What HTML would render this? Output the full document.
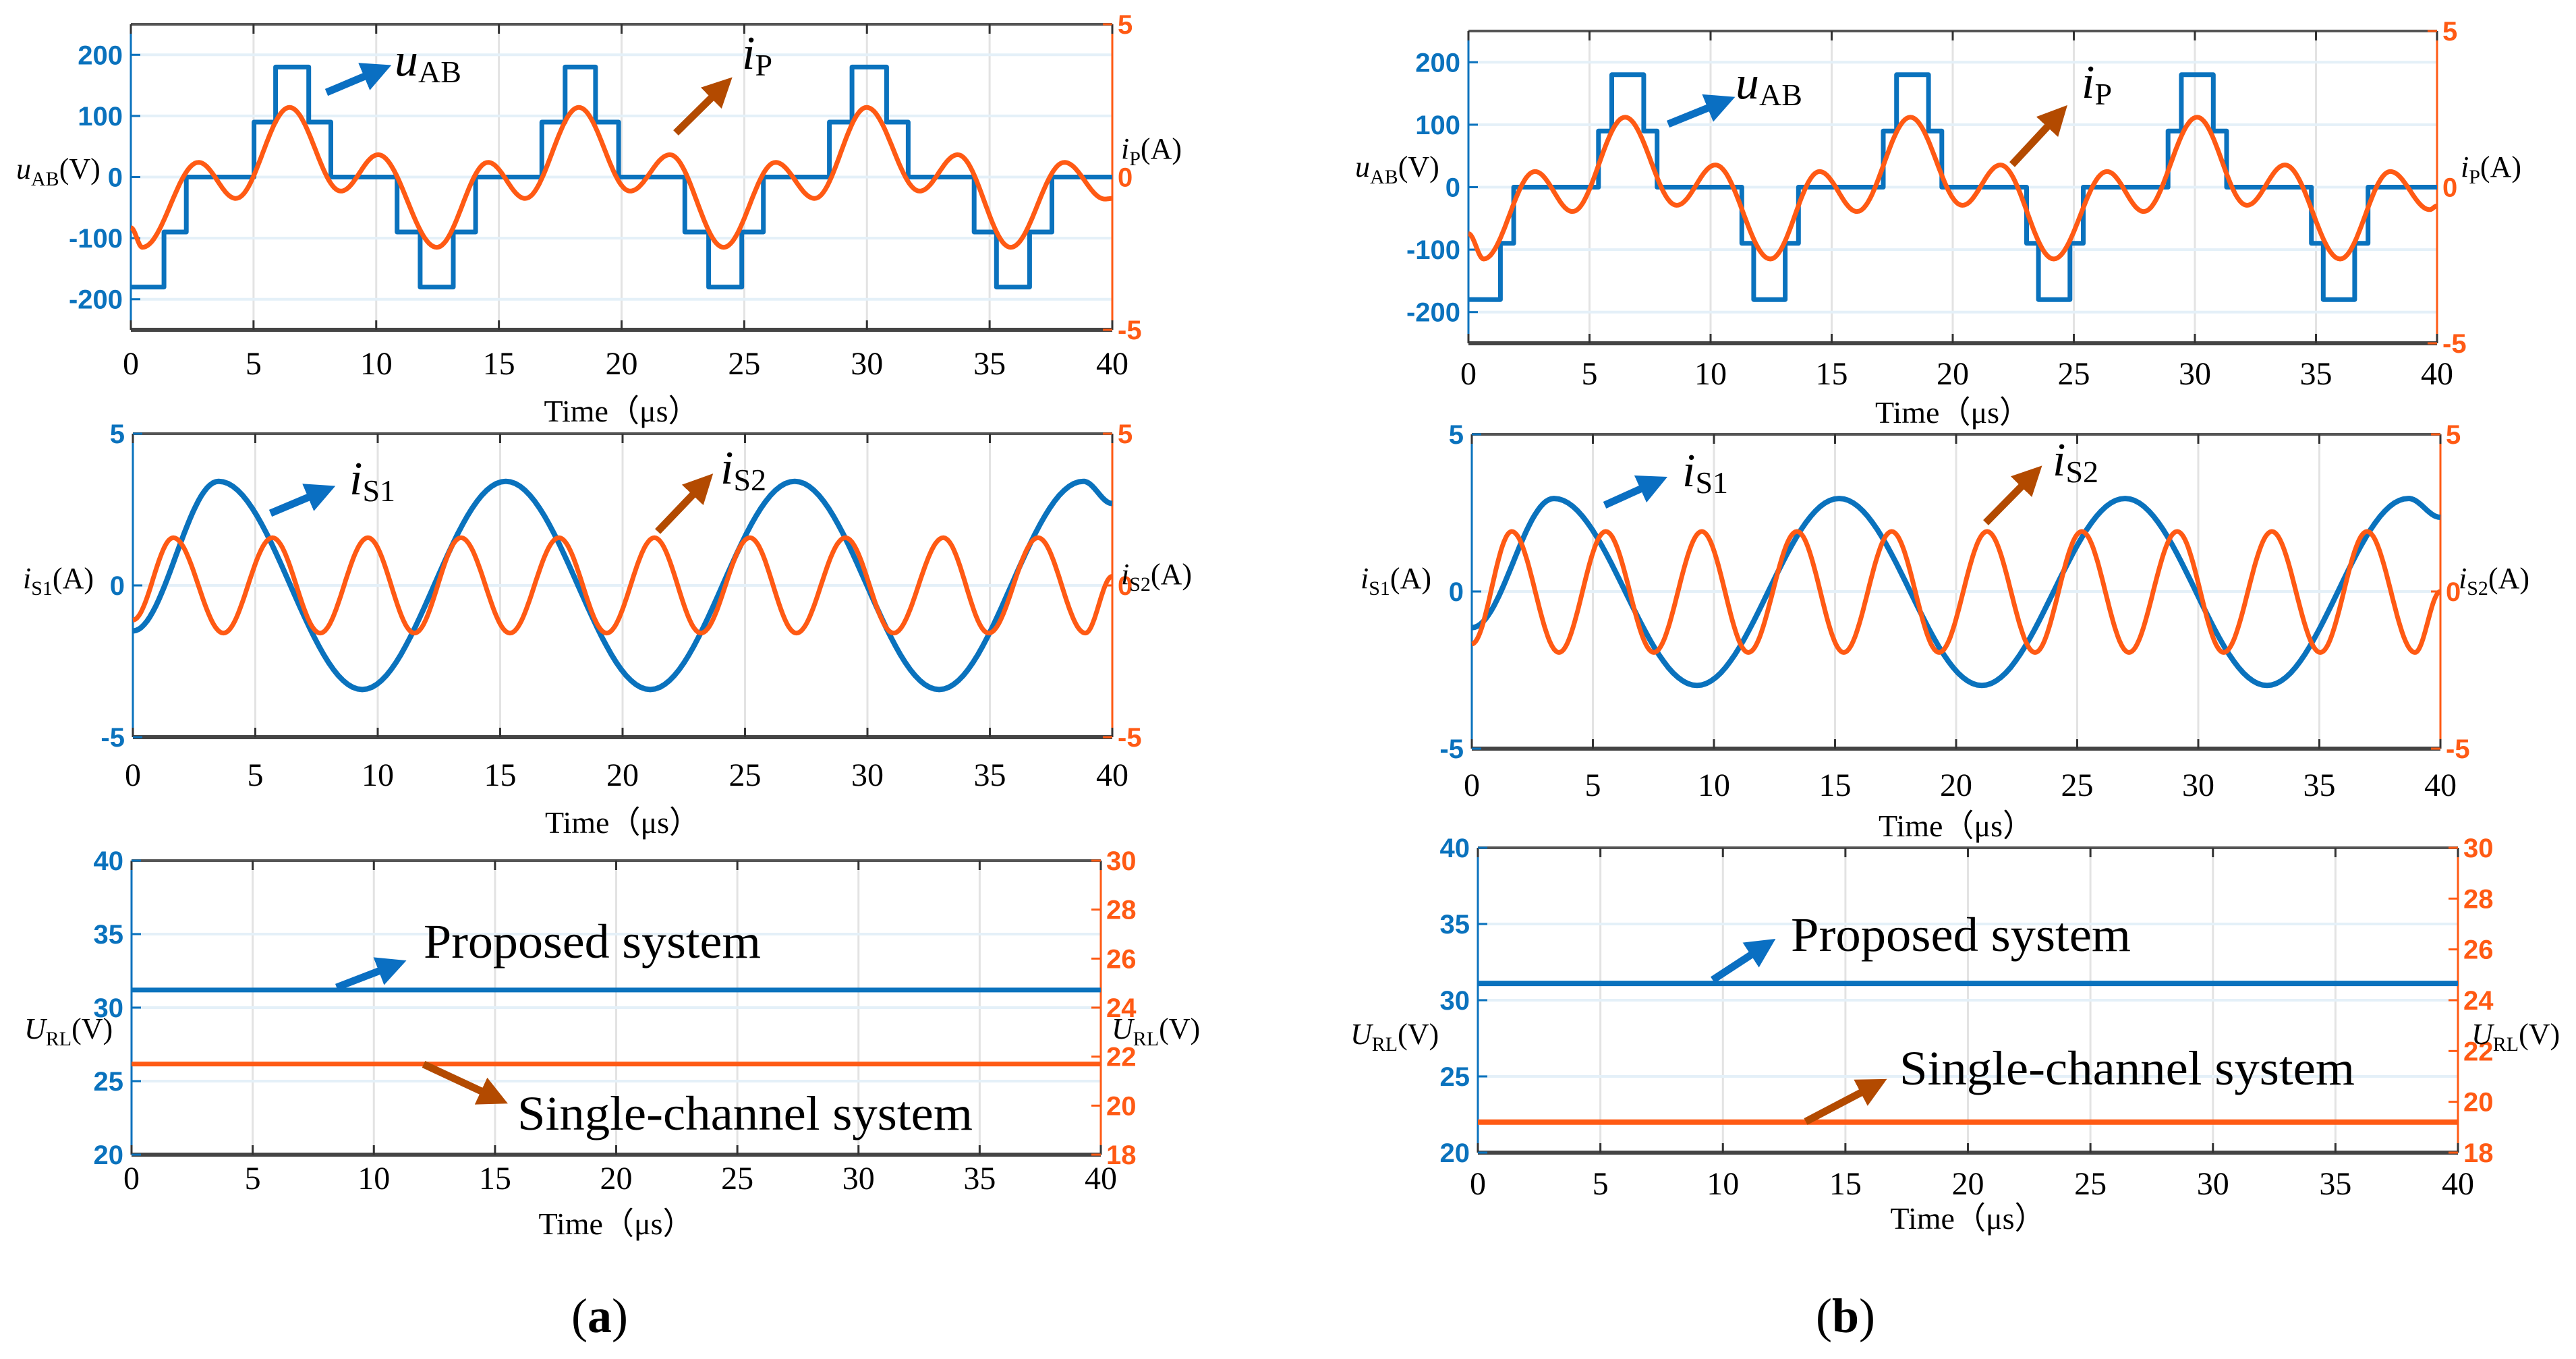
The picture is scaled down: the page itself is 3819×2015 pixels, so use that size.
<!DOCTYPE html>
<html><head><meta charset="utf-8"><style>
html,body{margin:0;padding:0;background:#fff;}
svg{display:block;}
.tk{font-family:"Liberation Sans Narrow","Liberation Sans",sans-serif;font-weight:bold;font-size:40px;}
.xt{font-family:"Liberation Serif",serif;font-size:48px;fill:#000;}
.tl{font-family:"Liberation Serif",serif;font-size:46px;fill:#000;}
.an{font-family:"Liberation Serif",serif;fill:#000;}
</style></head><body>
<svg id="fig" width="3819" height="2015" viewBox="0 0 3819 2015" xmlns="http://www.w3.org/2000/svg">
<defs>
<marker id="ab" markerWidth="4" markerHeight="4" refX="2" refY="2" orient="auto" markerUnits="strokeWidth"><path d="M0,0 L4,2 L0,4 z" fill="#0a6fc2"/></marker>
<marker id="ao" markerWidth="4" markerHeight="4" refX="2" refY="2" orient="auto" markerUnits="strokeWidth"><path d="M0,0 L4,2 L0,4 z" fill="#b34a00"/></marker>
</defs>
</svg>
<script>
// ---------- data ----------
const xTicks = [0,5,10,15,20,25,30,35,40];
// panel a1
const a1StepTimes  = [0,1.35,2.26,5.02,5.9,7.25,8.15,10.85,11.79,13.14,14.05,16.75,17.7,18.94,19.88,22.58,23.55,24.9,25.78,28.47,29.39,30.8,31.68,34.37,35.28,36.63,37.54,40];
const a1StepLevels = [-180,-90,0,90,180,90,0,-90,-180,-90,0,90,180,90,0,-90,-180,-90,0,90,180,90,0,-90,-180,-90,0];
const a1IpT = [0,0.47,2.76,4.28,6.47,8.56,10.08,12.47,14.56,16.07,18.26,20.35,21.97,24.16,26.28,27.87,29.99,32.15,33.7,35.86,38.05,39.7,40];
const a1IpV = [-1.66,-2.3,0.48,-0.7,2.28,-0.46,0.73,-2.3,0.48,-0.7,2.28,-0.46,0.73,-2.3,0.48,-0.7,2.28,-0.46,0.73,-2.3,0.48,-0.72,-0.7];
// panel b1
const b1StepTimes  = [0,1.32,1.87,5.37,5.92,7.24,7.79,11.29,11.78,13.08,13.63,17.13,17.68,19.0,19.55,23.05,23.54,24.84,25.39,28.89,29.44,30.76,31.31,34.81,35.3,36.6,37.15,40];
const b1StepLevels = [-180,-90,0,90,180,90,0,-90,-180,-90,0,90,180,90,0,-90,-180,-90,0,90,180,90,0,-90,-180,-90,0];
const b1IpT = [0,0.63,2.75,4.3,6.47,8.6,10.2,12.47,14.5,16.05,18.25,20.4,21.97,24.17,26.37,27.89,30.09,32.15,33.72,36.0,38.07,39.7,40];
const b1IpV = [-1.49,-2.3,0.5,-0.78,2.24,-0.58,0.71,-2.3,0.5,-0.78,2.24,-0.58,0.71,-2.3,0.5,-0.78,2.24,-0.58,0.71,-2.3,0.5,-0.72,-0.6];
// panel a2
const a2S1T = [0,3.5,9.37,15.23,21.13,27.03,32.93,38.82,40];
const a2S1V = [-1.5,3.43,-3.43,3.43,-3.43,3.43,-3.43,3.43,2.7];
const a2S2T = [0,1.65,3.7,5.7,7.65,9.6,11.5,13.4,15.4,17.4,19.35,21.3,23.2,25.2,27.1,29.1,31.07,33.1,34.95,36.97,38.9,40];
const a2S2V = [-1.14,1.57,-1.57,1.57,-1.57,1.57,-1.57,1.57,-1.57,1.57,-1.57,1.57,-1.57,1.57,-1.57,1.57,-1.57,1.57,-1.57,1.57,-1.57,0.3];
// panel b2
const b2S1T = [0,3.39,9.3,15.17,21.06,26.98,32.84,38.68,40];
const b2S1V = [-1.15,2.96,-2.99,2.96,-2.99,2.96,-2.99,2.96,2.36];
const b2S2T = [0,1.65,3.6,5.53,7.52,9.5,11.42,13.43,15.36,17.34,19.3,21.28,23.26,25.19,27.14,29.13,31.05,33.04,35.04,36.97,38.95,40];
const b2S2V = [-1.67,1.91,-1.94,1.91,-1.94,1.91,-1.94,1.91,-1.94,1.91,-1.94,1.91,-1.94,1.91,-1.94,1.91,-1.94,1.91,-1.94,1.91,-1.94,0];
// panel 3 (DC outputs)
const a3Proposed = [31.2,31.2];
const a3Single = [21.7,21.7];
const b3Proposed = [31.1,31.1];
const b3Single = [19.2,19.2];
const dcT = [0,40];

// ---------- drawing ----------
const NS='http://www.w3.org/2000/svg';
const svg=document.getElementById('fig');
const BLUE='#0a72bd', ORANGE='#ff5a14';
function mk(tag,attrs,parent){const e=document.createElementNS(NS,tag);for(const k in attrs)e.setAttribute(k,attrs[k]);(parent||svg).appendChild(e);return e;}

function makePanel(id,x0,x1,y0,y1,lmin,lmax,lticks,rmin,rmax,rticks,tickBase,timeBase){
  const g=mk('g',{});
  
  
  const P={g,x0,x1,y0,y1,
    sx:t=>x0+(t/40)*(x1-x0),
    syL:v=>y1-(v-lmin)/(lmax-lmin)*(y1-y0),
    syR:v=>y1-(v-rmin)/(rmax-rmin)*(y1-y0)};
  xTicks.forEach(t=>{const x=P.sx(t);
    const l=mk('line',{x1:x,x2:x,y1:y0,y2:y1,stroke:'#e3e3e3','stroke-width':3},g);
    });
  lticks.forEach(v=>{const y=P.syL(v);
    const l=mk('line',{x1:x0,x2:x1,y1:y,y2:y,stroke:'#e4f0f8','stroke-width':4},g);
    });
  const tb=mk('line',{x1:x0,x2:x1,y1:y0,y2:y0,stroke:'#555','stroke-width':4},g);
  
  const bb=mk('line',{x1:x0,x2:x1,y1:y1,y2:y1,stroke:'#444','stroke-width':6},g);
  
  const la=mk('line',{x1:x0,x2:x0,y1:y0,y2:y1,stroke:BLUE,'stroke-width':3},g);
  
  const ra=mk('line',{x1:x1,x2:x1,y1:y0,y2:y1,stroke:ORANGE,'stroke-width':3},g);
  
  xTicks.forEach(t=>{const x=P.sx(t);
    mk('line',{x1:x,x2:x,y1:y1,y2:y1-14,stroke:'#333','stroke-width':3},g);
    mk('line',{x1:x,x2:x,y1:y0,y2:y0+14,stroke:'#333','stroke-width':3},g);
    const tx=mk('text',{x:x,y:tickBase,'text-anchor':'middle',class:'xt'},g);
    tx.textContent=t;
    });
  lticks.forEach(v=>{const y=P.syL(v);
    mk('line',{x1:x0,x2:x0+14,y1:y,y2:y,stroke:BLUE,'stroke-width':3},g);
    const tx=mk('text',{x:x0-12,y:y+14,'text-anchor':'end',class:'tk',fill:BLUE},g);
    tx.textContent=v;
    });
  rticks.forEach(v=>{const y=P.syR(v);
    mk('line',{x1:x1,x2:x1-14,y1:y,y2:y,stroke:ORANGE,'stroke-width':3},g);
    const tx=mk('text',{x:x1+8,y:y+14,'text-anchor':'start',class:'tk',fill:ORANGE},g);
    tx.textContent=v;
    });
  const tl=mk('text',{x:(x0+x1)/2,y:timeBase,'text-anchor':'middle',class:'tl'},g);
  tl.textContent='Time（μs）';
  
  return P;
}
function smoothPath(P,T,V,sy){
  let d='';
  for(let i=0;i<T.length-1;i++){
    const n=30;
    for(let k=(i?1:0);k<=n;k++){
      const s=k/n, t=T[i]+(T[i+1]-T[i])*s, v=V[i]+(V[i+1]-V[i])*(1-Math.cos(Math.PI*s))/2;
      d+=(d?'L':'M')+P.sx(t).toFixed(1)+','+sy(v).toFixed(1);
    }
  }
  return d;
}
function stepPath(P,T,L){
  let d='M'+P.sx(T[0])+','+P.syL(L[0]);
  for(let i=0;i<L.length;i++){
    d+='L'+P.sx(T[i+1]).toFixed(1)+','+P.syL(L[i]).toFixed(1);
    if(i+1<L.length)d+='L'+P.sx(T[i+1]).toFixed(1)+','+P.syL(L[i+1]).toFixed(1);
  }
  return d;
}
function series(P,d,color,name,w){
  const p=mk('path',{d:d,fill:'none',stroke:color,'stroke-width':w||7,'stroke-linejoin':'round'},P.g);
  
}
function arrow(x1,y1,x2,y2,blue,name){
  const l=mk('line',{x1,y1,x2,y2,stroke:blue?'#0a6fc2':'#b34a00','stroke-width':11,'marker-end':blue?'url(#ab)':'url(#ao)'});
  
}
function label(x,y,html,size,name,anchor){
  const t=mk('text',{x,y,class:'an','font-size':size,'text-anchor':anchor||'start'});
  t.innerHTML=html;
  
  return t;
}
const sub=(s,sz)=>`<tspan font-size="${sz}" dy="10">${s}</tspan>`;

const A1=makePanel('a1',194,1649,36,489,-250,250,[-200,-100,0,100,200],-5,5,[-5,0,5],555,625);
series(A1,stepPath(A1,a1StepTimes,a1StepLevels),BLUE,'uab-step-series',7);
series(A1,smoothPath(A1,a1IpT,a1IpV,A1.syR),ORANGE,'ip-series',7);
const B1=makePanel('b1',2177,3613,46,509,-250,250,[-200,-100,0,100,200],-5,5,[-5,0,5],570,627);
series(B1,stepPath(B1,b1StepTimes,b1StepLevels),BLUE,'uab-step-series',7);
series(B1,smoothPath(B1,b1IpT,b1IpV,B1.syR),ORANGE,'ip-series',7);
const A2=makePanel('a2',197,1649,643,1093,-5,5,[-5,0,5],-5,5,[-5,0,5],1165,1235);
series(A2,smoothPath(A2,a2S1T,a2S1V,A2.syL),BLUE,'is1-series',8);
series(A2,smoothPath(A2,a2S2T,a2S2V,A2.syR),ORANGE,'is2-series',7);
const B2=makePanel('b2',2182,3618,644,1110,-5,5,[-5,0,5],-5,5,[-5,0,5],1180,1240);
series(B2,smoothPath(B2,b2S1T,b2S1V,B2.syL),BLUE,'is1-series',8);
series(B2,smoothPath(B2,b2S2T,b2S2V,B2.syR),ORANGE,'is2-series',7);
const A3=makePanel('a3',195,1632,1276,1712,20,40,[20,25,30,35,40],18,30,[18,20,22,24,26,28,30],1763,1830);
series(A3,'M'+A3.sx(dcT[0])+','+A3.syL(a3Proposed[0])+'L'+A3.sx(dcT[1])+','+A3.syL(a3Proposed[1]),BLUE,'proposed-system-line',7);
series(A3,'M'+A3.sx(dcT[0])+','+A3.syR(a3Single[0])+'L'+A3.sx(dcT[1])+','+A3.syR(a3Single[1]),ORANGE,'single-channel-line',7);
const B3=makePanel('b3',2191,3644,1257,1709,20,40,[20,25,30,35,40],18,30,[18,20,22,24,26,28,30],1771,1822);
series(B3,'M'+B3.sx(dcT[0])+','+B3.syL(b3Proposed[0])+'L'+B3.sx(dcT[1])+','+B3.syL(b3Proposed[1]),BLUE,'proposed-system-line',8);
series(B3,'M'+B3.sx(dcT[0])+','+B3.syR(b3Single[0])+'L'+B3.sx(dcT[1])+','+B3.syR(b3Single[1]),ORANGE,'single-channel-line',8);

arrow(484,137,560,105,true,'uab-arrow');
arrow(1002,197,1070,130,false,'ip-arrow');
label(585,112,'<tspan font-style="italic">u</tspan>'+sub('AB',46),70,'uab-annotation');
label(1100,102,'<tspan font-style="italic">i</tspan>'+sub('P',46),70,'ip-annotation');
arrow(2473,184,2552,152,true,'uab-arrow');
arrow(2983,244,3050,172,false,'ip-arrow');
label(2573,146,'<tspan font-style="italic">u</tspan>'+sub('AB',46),70,'uab-annotation');
label(3086,145,'<tspan font-style="italic">i</tspan>'+sub('P',46),70,'ip-annotation');
arrow(401,761,477,729,true,'is1-arrow');
arrow(975,788,1042,718,false,'is2-arrow');
label(518,733,'<tspan font-style="italic">i</tspan>'+sub('S1',46),70,'is1-annotation');
label(1068,717,'<tspan font-style="italic">i</tspan>'+sub('S2',46),70,'is2-annotation');
arrow(2379,749,2452,716,true,'is1-arrow');
arrow(2944,775,3012,706,false,'is2-arrow');
label(2494,721,'<tspan font-style="italic">i</tspan>'+sub('S1',46),70,'is1-annotation');
label(3043,705,'<tspan font-style="italic">i</tspan>'+sub('S2',46),70,'is2-annotation');
arrow(499,1464,582,1432,true,'proposed-arrow');
arrow(628,1578,733,1627,false,'single-channel-arrow');
const t1=label(628,1420,'Proposed system',72,'proposed-annotation');t1.setAttribute('textLength','500');t1.setAttribute('lengthAdjust','spacingAndGlyphs');
const t2=label(767,1675,'Single-channel system',72,'single-channel-annotation');t2.setAttribute('textLength','675');t2.setAttribute('lengthAdjust','spacingAndGlyphs');
arrow(2539,1453,2614,1404,true,'proposed-arrow');
arrow(2677,1663,2778,1610,false,'single-channel-arrow');
const t3=label(2655,1410,'Proposed system',72,'proposed-annotation');t3.setAttribute('textLength','504');t3.setAttribute('lengthAdjust','spacingAndGlyphs');
const t4=label(2816,1608,'Single-channel system',72,'single-channel-annotation');t4.setAttribute('textLength','675');t4.setAttribute('lengthAdjust','spacingAndGlyphs');

const ax=(x,y,html,name,anchor)=>label(x,y,html,44,name,anchor);
ax(24,265,'<tspan font-style="italic">u</tspan>'+sub('AB',30)+'<tspan dy="-10">(V)</tspan>','a1-left-axis-title');
ax(1662,235,'<tspan font-style="italic">i</tspan>'+sub('P',30)+'<tspan dy="-10">(A)</tspan>','a1-right-axis-title');
ax(2009,262,'<tspan font-style="italic">u</tspan>'+sub('AB',30)+'<tspan dy="-10">(V)</tspan>','b1-left-axis-title');
ax(3648,262,'<tspan font-style="italic">i</tspan>'+sub('P',30)+'<tspan dy="-10">(A)</tspan>','b1-right-axis-title');
ax(34,872,'<tspan font-style="italic">i</tspan>'+sub('S1',30)+'<tspan dy="-10">(A)</tspan>','a2-left-axis-title');
ax(1662,866,'<tspan font-style="italic">i</tspan>'+sub('S2',30)+'<tspan dy="-10">(A)</tspan>','a2-right-axis-title');
ax(2017,872,'<tspan font-style="italic">i</tspan>'+sub('S1',30)+'<tspan dy="-10">(A)</tspan>','b2-left-axis-title');
ax(3645,872,'<tspan font-style="italic">i</tspan>'+sub('S2',30)+'<tspan dy="-10">(A)</tspan>','b2-right-axis-title');
ax(36,1540,'<tspan font-style="italic">U</tspan>'+sub('RL',30)+'<tspan dy="-10">(V)</tspan>','a3-left-axis-title');
ax(1648,1540,'<tspan font-style="italic">U</tspan>'+sub('RL',30)+'<tspan dy="-10">(V)</tspan>','a3-right-axis-title');
ax(2002,1548,'<tspan font-style="italic">U</tspan>'+sub('RL',30)+'<tspan dy="-10">(V)</tspan>','b3-left-axis-title');
ax(3664,1548,'<tspan font-style="italic">U</tspan>'+sub('RL',30)+'<tspan dy="-10">(V)</tspan>','b3-right-axis-title');

label(889,1975,'(<tspan font-weight="bold">a</tspan>)',72,'caption-a','middle');
label(2736,1975,'(<tspan font-weight="bold">b</tspan>)',72,'caption-b','middle');
</script>
</body></html>
